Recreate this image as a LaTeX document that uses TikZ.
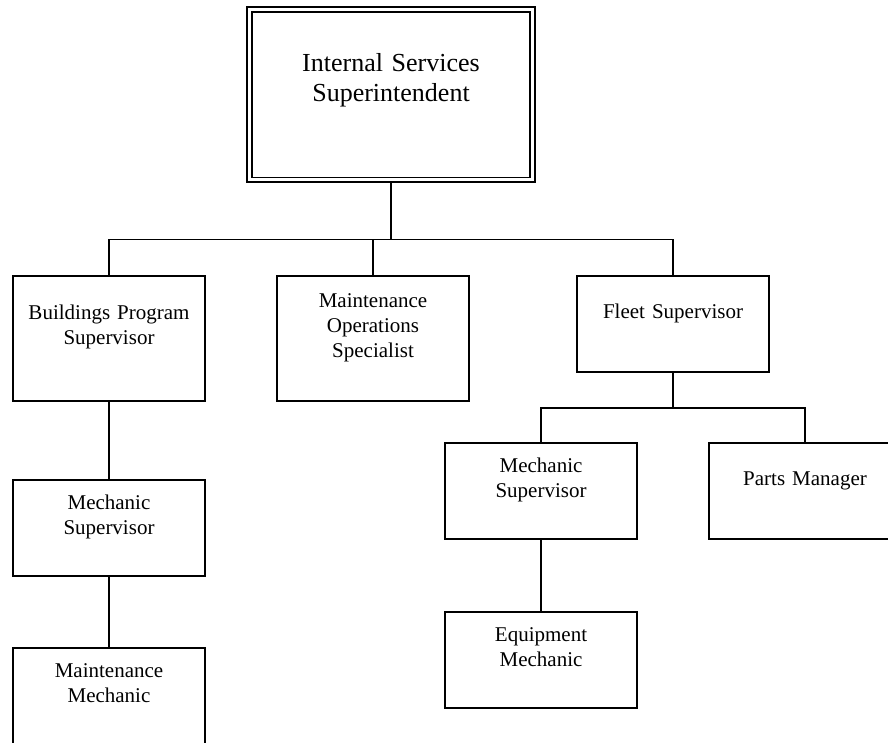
\documentclass[tikz,border=0pt]{standalone}
\usepackage{fontspec}
\setmainfont{Liberation Serif}
\usetikzlibrary{positioning}

\begin{document}
\begin{tikzpicture}[
    x=1pt, y=-1pt,
    line width=1.9pt,
    post/.style={
        draw,
        minimum width=192pt,
        inner sep=0pt,
        outer sep=0pt,
        text width=186pt,
        align=center,
        font=\fontsize{21}{25}\selectfont,
    },
    oneline/.style={
        text height=42pt,
        text depth=54pt
    },
    twoline/.style={
        text height=29pt,
        text depth=67pt
    },
    head/.style={
        draw,
        double,
        double distance=3pt,
        minimum width=283pt,
        inner sep=0pt,
        outer sep=3.4pt,
        text width=270pt,
        align=center,
        text height=62.5pt,
        text depth=108pt,
        font=\fontsize{26}{30}\selectfont,
    }
]
\useasboundingbox (0,0) rectangle (888,743);
\clip (0,0) rectangle (888,743);

\node[head] (chief) at (391,94.75) {Internal Services\\Superintendent};

\node[post, text height=43pt, text depth=82pt, anchor=north] (bldg) at (109,276) {Buildings Program\\Supervisor};
\node[post, text height=31pt, text depth=94pt, anchor=north] (mops) at (373,276) {Maintenance\\Operations\\Specialist};
\node[post, oneline, anchor=north] (fleet) at (673,276) {Fleet Supervisor};

% buildings side
\node[post, twoline, below=79pt of bldg] (mechL) {Mechanic\\Supervisor};
\node[post, text height=29pt, text depth=96pt, below=72pt of mechL] (maintL) {Maintenance\\Mechanic};

% fleet side
\node[post, twoline, anchor=north] (mechR) at (541,443) {Mechanic\\Supervisor};
\node[post, oneline, right=72pt of mechR] (parts) {Parts Manager};
\node[post, twoline, below=73pt of mechR] (equip) {Equipment\\Mechanic};

\coordinate (topbus) at (0,239.5);
\coordinate (fleetbus) at (0,408);

\draw (chief.south) -- (chief.south |- topbus);
\draw (bldg.north) -- (bldg.north |- topbus) -- (fleet.north |- topbus) -- (fleet.north);
\draw (mops.north) -- (mops.north |- topbus);

\draw (bldg) -- (mechL);
\draw (mechL) -- (maintL);

\draw (fleet.south) -- (fleet.south |- fleetbus);
\draw (mechR.north) -- (mechR.north |- fleetbus) -- (parts.north |- fleetbus) -- (parts.north);
\draw (mechR) -- (equip);
\end{tikzpicture}
\end{document}
